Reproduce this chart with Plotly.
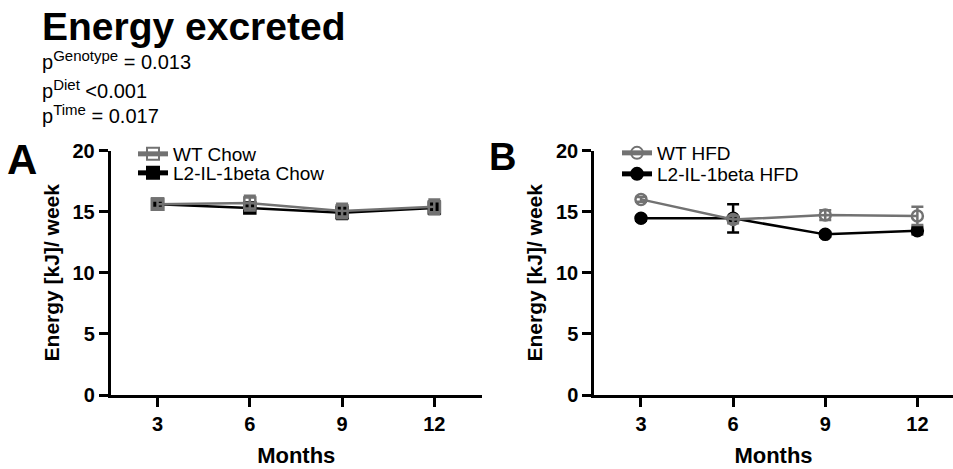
import plotly.graph_objects as go

months = [3, 6, 9, 12]

wt_chow = [15.6, 15.7, 15.05, 15.4]
wt_chow_err = [0.3, 0.6, 0.6, 0.6]
l2_chow = [15.6, 15.3, 14.9, 15.3]
l2_chow_err = [0.3, 0.4, 0.5, 0.5]

wt_hfd = [16.0, 14.35, 14.72, 14.65]
wt_hfd_err = [0.2, 0.3, 0.4, 0.75]
l2_hfd = [14.45, 14.45, 13.14, 13.44]
l2_hfd_err = [0.2, 1.15, 0.2, 0.3]

y_ticks = [0, 5, 10, 15, 20]
x_ticks = [3, 6, 9, 12]

GRAY = "#727272"
BLACK = "#000000"
FONT = "Liberation Sans, Arial, sans-serif"

fig = go.Figure()

def add(x, y, err, name, color, symbol, xa, ya, legend):
    fig.add_trace(go.Scatter(
        x=x, y=y, name=name, mode="lines+markers",
        line=dict(color=color, width=2.5),
        marker=dict(color=color, symbol=symbol, size=11,
                    line=dict(color=color, width=2.5)),
        error_y=dict(type="data", array=err, color=color, thickness=2.5, width=6),
        xaxis=xa, yaxis=ya, legend=legend,
    ))

add(months, l2_chow, l2_chow_err, "L2-IL-1beta Chow", BLACK, "square", "x", "y", "legend2")
add(months, wt_chow, wt_chow_err, "WT Chow", GRAY, "square-open", "x", "y", "legend")
add(months, l2_hfd, l2_hfd_err, "L2-IL-1beta HFD", BLACK, "circle", "x2", "y2", "legend4")
add(months, wt_hfd, wt_hfd_err, "WT HFD", GRAY, "circle-open", "x2", "y2", "legend3")

ax_common = dict(showline=True, linecolor="black", linewidth=2.5, ticks="outside",
                 ticklen=9, tickwidth=2.5, tickcolor="black", showgrid=False, zeroline=False,
                 automargin=False,
                 tickfont=dict(family=FONT, size=20, color="black", weight="bold"))

Y0, Y1 = 1 - 395 / 469, 1 - 150.5 / 469
XL = [110.5 / 953, 482 / 953]
XR = [594 / 953, 1.0]

fig.update_layout(
    width=953, height=469, margin=dict(l=0, r=0, t=0, b=0),
    paper_bgcolor="white", plot_bgcolor="white",
    font=dict(family=FONT, color="black"),
    xaxis=dict(domain=XL, range=[1.47, 13.55], tickvals=x_ticks,
               title=dict(text="Months", font=dict(family=FONT, size=22, weight="bold"), standoff=14),
               **ax_common),
    yaxis=dict(domain=[Y0, Y1], range=[0, 20], tickvals=y_ticks,
               title=dict(text="Energy [kJ]/ week", font=dict(family=FONT, size=21, weight="bold"), standoff=8),
               **ax_common),
    xaxis2=dict(domain=XR, range=[1.47, 13.16], tickvals=x_ticks, anchor="y2",
                title=dict(text="Months", font=dict(family=FONT, size=22, weight="bold"), standoff=14),
                **ax_common),
    yaxis2=dict(domain=[Y0, Y1], range=[0, 20], tickvals=y_ticks, anchor="x2",
                title=dict(text="Energy [kJ]/ week", font=dict(family=FONT, size=21, weight="bold"), standoff=8),
                **ax_common),
    showlegend=True,
)

leg_common = dict(xanchor="left", yanchor="top", font=dict(family=FONT, size=19, color="black"),
                  bgcolor="rgba(0,0,0,0)", itemsizing="constant")
fig.update_layout(
    legend=dict(x=133 / 953, y=1 - 135 / 469, **leg_common),
    legend2=dict(x=133 / 953, y=1 - 154 / 469, **leg_common),
    legend3=dict(x=617 / 953, y=1 - 134 / 469, **leg_common),
    legend4=dict(x=617 / 953, y=1 - 155 / 469, **leg_common),
)

ann = []
ann.append(dict(text="<b>Energy excreted</b>", x=40 / 953, y=1 - 3 / 469, xref="paper", yref="paper",
                xanchor="left", yanchor="top", showarrow=False, font=dict(family=FONT, size=39)))
SUP = '<sup><span style="font-size:15px">%s</span></sup>'
for txt, yy in [("p" + SUP % "Genotype" + " = 0.013", 45), ("p" + SUP % "Diet" + " <0.001", 74),
                ("p" + SUP % "Time" + " = 0.017", 99)]:
    ann.append(dict(text=txt, x=40 / 953, y=1 - yy / 469, xref="paper", yref="paper",
                    xanchor="left", yanchor="top", showarrow=False, font=dict(family=FONT, size=20)))
ann.append(dict(text="<b>A</b>", x=5 / 953, y=1 - 134 / 469, xref="paper", yref="paper",
                xanchor="left", yanchor="top", showarrow=False, font=dict(family=FONT, size=42)))
ann.append(dict(text="<b>B</b>", x=487 / 953, y=1 - 134 / 469, xref="paper", yref="paper",
                xanchor="left", yanchor="top", showarrow=False, font=dict(family=FONT, size=38)))
fig.update_layout(annotations=ann)

fig.write_html("out.html")
